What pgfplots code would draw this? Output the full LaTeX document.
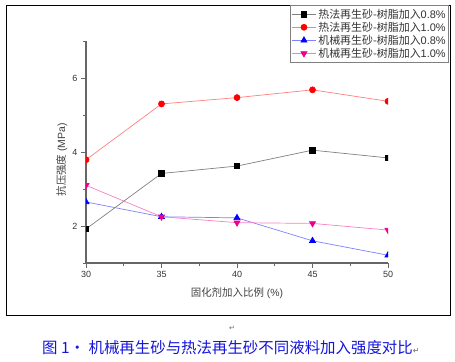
\documentclass[border=0pt]{standalone}
\usepackage{fontspec}
\setmainfont{Liberation Sans}
\newfontfamily\cjk{Noto Sans CJK SC}
\newfontfamily\djv{DejaVu Sans}
\usepackage{pgfplots}
\pgfplotsset{compat=1.18}
\definecolor{capblue}{RGB}{20,20,220}
\begin{document}
\begin{tikzpicture}[x=1bp,y=1bp]
\path[use as bounding box] (0,0) rectangle (455,361);
\draw[line width=0.9bp] (6,46) rectangle (450.5,356);
\begin{axis}[
  at={(86bp,98bp)}, anchor=south west,
  scale only axis, width=302bp, height=222bp,
  xmin=30, xmax=50, ymin=1, ymax=7,
  axis x line*=bottom, axis y line*=left,
  axis line style={black!60, line width=1.3bp, -},
  xtick={30,35,40,45,50},
  minor xtick={32.5,37.5,42.5,47.5},
  ytick={2,4,6},
  minor ytick={1,3,5,7},
  tick align=outside,
  major tick length=5bp, minor tick length=3bp,
  every tick/.style={black!60, line width=0.8bp},
  /pgf/number format/assume math mode=true,
  ticklabel style={font=\fontsize{9}{10}\selectfont, text=black!80},
  xlabel={{\cjk 固化剂加入比例} (\%)},
  ylabel={{\cjk 抗压强度} (MPa)},
  label style={font=\fontsize{10.5}{12}\selectfont, text=black!75},
  xlabel style={at={(axis description cs:0.5,-0.134)}, anchor=center},
  ylabel style={at={(axis description cs:-0.08,0.465)}, anchor=center},
  clip marker paths=true,
  legend style={at={(axis description cs:1.202,1.162)}, anchor=north east,
    draw=black!50, line width=0.6bp, font=\fontsize{11}{11.5}\selectfont,
    row sep=-1.6bp, inner xsep=1bp, inner ysep=1.5bp, text=black!80},
  legend cell align=left,
  legend image code/.code={\draw[mark repeat=2,mark phase=2] plot coordinates {(-3bp,0bp) (9bp,0bp) (21bp,0bp)};},
]
\addplot[color=black!50, line width=0.7bp, mark=square*, mark size=2.7bp, mark options={fill=black, draw=black}]
  coordinates {(30,1.92) (35,3.42) (40,3.62) (45,4.05) (50,3.84)};
\addlegendentry{{\cjk 热法再生砂-树脂加入}0.8\%}
\addplot[color=red!50, line width=0.7bp, mark=*, mark size=3bp, mark options={fill=red, draw=red}]
  coordinates {(30,3.79) (35,5.30) (40,5.47) (45,5.68) (50,5.37)};
\addlegendentry{{\cjk 热法再生砂-树脂加入}1.0\%}
\addplot[color=blue!50, line width=0.7bp, mark=triangle*, mark size=3.5bp, mark options={fill=blue, draw=blue}]
  coordinates {(30,2.65) (35,2.25) (40,2.22) (45,1.60) (50,1.21)};
\addlegendentry{{\cjk 机械再生砂-树脂加入}0.8\%}
\addplot[color=magenta!50, line width=0.7bp, mark=triangle*, mark size=3.5bp, mark options={fill=magenta, draw=magenta, rotate=180}]
  coordinates {(30,3.10) (35,2.25) (40,2.09) (45,2.07) (50,1.89)};
\addlegendentry{{\cjk 机械再生砂-树脂加入}1.0\%}
\end{axis}
\node[text=black!60, font=\djv\fontsize{7}{7}\selectfont] at (232,33) {↵};
\node[text=capblue, font=\cjk\fontsize{15.5}{17}\selectfont, anchor=west, inner sep=0pt] at (42,13) {图 1· 机械再生砂与热法再生砂不同液料加入强度对比{\djv\fontsize{8}{8}\selectfont\color{black!60}↵}};
\end{tikzpicture}
\end{document}
